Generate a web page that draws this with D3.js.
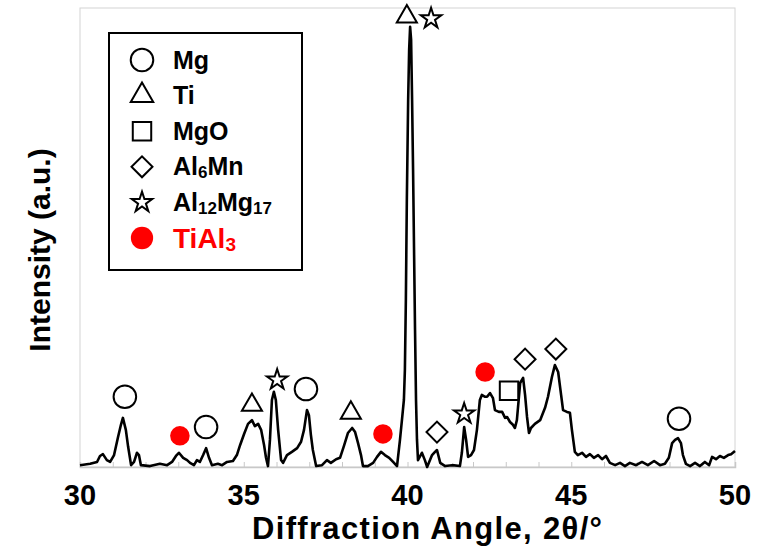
<!DOCTYPE html>
<html>
<head>
<meta charset="utf-8">
<script src="https://cdn.jsdelivr.net/npm/d3@7"></script>
<style>
  body { margin: 0; background: #fff; }
  svg { display: block; }
  svg text { font-family: "Liberation Sans", Arial, sans-serif; font-weight: bold; }
</style>
</head>
<body>
<div id="plot"></div>
<script>
// XRD pattern (angle in degrees 2θ, intensity in a.u.)
const angles = [30.00,30.31,30.52,30.61,30.70,30.82,30.92,31.04,31.16,31.25,31.31,31.40,31.47,31.56,31.65,31.74,31.80,31.86,
  32.14,32.44,32.66,32.81,32.93,33.02,33.15,33.27,33.36,33.48,33.57,33.66,33.76,33.85,33.94,34.03,34.21,34.34,34.49,34.67,
  34.79,34.89,35.01,35.13,35.25,35.34,35.44,35.53,35.62,35.68,35.74,35.80,35.86,35.92,35.98,36.05,36.14,36.20,36.32,36.47,
  36.63,36.75,36.84,36.93,36.99,37.05,37.11,37.21,37.39,37.54,37.66,37.82,37.94,38.06,38.18,38.31,38.40,38.49,38.58,38.64,
  38.79,38.95,39.07,39.19,39.31,39.44,39.56,39.68,39.77,39.83,39.89,39.92,39.95,39.98,40.02,40.05,40.08,40.11,40.14,40.17,
  40.20,40.23,40.26,40.29,40.32,40.44,40.53,40.60,40.75,40.84,40.90,41.00,41.15,41.36,41.60,41.66,41.73,41.79,41.85,41.94,
  42.03,42.12,42.21,42.27,42.37,42.43,42.52,42.61,42.67,42.79,42.89,42.98,43.04,43.13,43.22,43.28,43.34,43.44,43.53,43.59,
  43.65,43.71,43.77,43.89,44.05,44.20,44.29,44.41,44.50,44.60,44.69,44.75,44.87,44.96,45.02,45.11,45.20,45.33,45.45,45.57,
  45.69,45.82,45.94,46.06,46.18,46.34,46.49,46.64,46.79,46.98,47.16,47.34,47.53,47.71,47.86,47.98,48.08,48.17,48.26,48.35,
  48.41,48.50,48.63,48.78,48.93,49.08,49.21,49.30,49.42,49.54,49.66,49.79,49.88,50.00];
const intensity = [4,7,11,24,28,15,11,26,65,92,107,81,44,4,11,31,26,4,
  2,7,4,11,24,31,20,15,9,4,15,11,26,41,20,4,7,4,11,13,
  26,48,72,94,102,89,94,81,48,20,2,59,146,164,146,81,15,9,26,33,
  41,55,81,124,113,70,37,2,4,15,9,17,20,46,74,85,76,52,26,2,
  2,9,22,33,26,20,11,2,59,102,146,211,364,582,800,909,959,931,800,647,
  473,299,146,59,15,31,15,0,26,33,37,9,2,4,2,31,87,59,22,26,
  37,81,146,157,153,153,161,150,124,120,120,107,109,98,92,85,102,183,194,157,
  109,74,85,94,102,129,153,196,222,207,157,124,120,118,81,33,26,31,22,28,
  20,26,17,24,9,4,9,2,9,4,11,4,13,4,7,20,52,59,63,52,
  26,7,2,9,2,11,4,22,17,24,20,26,28,35];

// phase labels for the legend
const phases = ["Mg", "Ti", "MgO", "Al6Mn", "Al12Mg17", "TiAl3"];

// peak markers: angle, height of marker, phase
const markAngle = [31.37,33.05,33.85,35.25,36.02,36.90,38.27,39.25,39.98,40.72,40.90,41.73,42.37,43.10,43.59,44.53,48.29];
const markLevel = [153,68,87,135,190,170,118,72,981,977,76,116,207,166,235,257,105];
const markPhase = ["Mg","TiAl3","Mg","Ti","Al12Mg17","Mg","Ti","TiAl3","Ti","Al12Mg17","Al6Mn","Al12Mg17","TiAl3","MgO","Al6Mn","Al6Mn","Mg"];

const xTicks = [30, 35, 40, 45, 50];

const W = 769, H = 547;
const plotL = 80, plotR = 735, plotT = 8, plotB = 467;

const svg = d3.select("#plot").append("svg")
  .attr("width", W)
  .attr("height", H);

const x = d3.scaleLinear().domain([30, 50]).range([plotL, plotR]);
const y = d3.scaleLinear().domain([0, 1000]).range([plotB, plotT]);

// grey frame
svg.append("rect")
  .attr("x", plotL).attr("y", plotT)
  .attr("width", plotR - plotL).attr("height", plotB - plotT)
  .attr("fill", "none").attr("stroke", "#d4d4d4").attr("stroke-width", 1);

// bottom axis with small inward ticks every degree
const xAxis = svg.append("g")
  .attr("transform", "translate(0," + plotB + ")")
  .call(d3.axisBottom(x).ticks(20).tickSize(-5).tickFormat(""));
xAxis.select(".domain").attr("stroke", "#c8c8c8").attr("stroke-width", 1.5);
xAxis.selectAll(".tick line").attr("stroke", "#c8c8c8");

svg.append("g").selectAll("text")
  .data(xTicks)
  .join("text")
  .attr("x", d => x(d))
  .attr("y", 505)
  .attr("text-anchor", "middle")
  .attr("font-size", 29)
  .text(d => d);

svg.append("text")
  .attr("x", 427).attr("y", 539)
  .attr("text-anchor", "middle")
  .attr("font-size", 31)
  .attr("textLength", 350)
  .attr("lengthAdjust", "spacing")
  .text("Diffraction Angle, 2θ/°");

svg.append("text")
  .attr("transform", "translate(50,250) rotate(-90)")
  .attr("text-anchor", "middle")
  .attr("font-size", 30)
  .text("Intensity (a.u.)");

// the pattern
const line = d3.line()
  .x((d, i) => x(angles[i]))
  .y((d, i) => y(intensity[i]));

svg.append("path")
  .datum(intensity)
  .attr("d", line)
  .attr("fill", "none")
  .attr("stroke", "#000")
  .attr("stroke-width", 2.6)
  .attr("stroke-linejoin", "round");

// symbol per phase
const symbolOf = {
  "Mg":       { type: d3.symbolCircle,   size: 400, rot: 0,  fill: "#fff", stroke: "#000" },
  "Ti":       { type: d3.symbolTriangle, size: 175, rot: 0,  fill: "#fff", stroke: "#000" },
  "MgO":      { type: d3.symbolSquare,   size: 340, rot: 0,  fill: "#fff", stroke: "#000" },
  "Al6Mn":    { type: d3.symbolSquare,   size: 220, rot: 45, fill: "#fff", stroke: "#000" },
  "Al12Mg17": { type: d3.symbolStar,     size: 130, rot: 0,  fill: "#fff", stroke: "#000" },
  "TiAl3":    { type: d3.symbolCircle,   size: 300, rot: 0,  fill: "#ff0000", stroke: "none" }
};

function drawSymbol(g, phase, cx, cy, scale) {
  const s = symbolOf[phase];
  g.append("path")
    .attr("d", d3.symbol().type(s.type).size(s.size * (scale || 1))())
    .attr("transform", "translate(" + cx + "," + cy + ") rotate(" + s.rot + ")")
    .attr("fill", s.fill)
    .attr("stroke", s.stroke)
    .attr("stroke-width", 2);
}

const marks = svg.append("g");
markAngle.forEach((a, i) => drawSymbol(marks, markPhase[i], x(a), y(markLevel[i])));

// legend
const lg = svg.append("g");
lg.append("rect")
  .attr("x", 109).attr("y", 33).attr("width", 193).attr("height", 237)
  .attr("fill", "#fff").attr("stroke", "#000").attr("stroke-width", 2);

const rowY = d3.scalePoint().domain(phases).range([60, 238]);

phases.forEach(p => {
  const legendScale = p === "TiAl3" ? 1.3 : (p === "Ti" ? 1.25 : 1);
  drawSymbol(lg, p, 142, rowY(p), legendScale);
  const red = p === "TiAl3";
  const t = lg.append("text")
    .attr("x", 173)
    .attr("y", rowY(p) + (red ? 10 : 8.5))
    .attr("font-size", red ? 28 : 25)
    .attr("fill", red ? "#ff0000" : "#000");
  // split into chemical symbols and subscript digits
  let shifted = false;
  p.match(/[A-Za-z]+|\d+/g).forEach(part => {
    const isNum = /\d/.test(part);
    const ts = t.append("tspan").text(part);
    if (isNum) {
      ts.attr("font-size", red ? 19 : 17).attr("dy", 3);
      shifted = true;
    } else if (shifted) {
      ts.attr("dy", -3);
      shifted = false;
    }
  });
});
</script>
</body>
</html>
